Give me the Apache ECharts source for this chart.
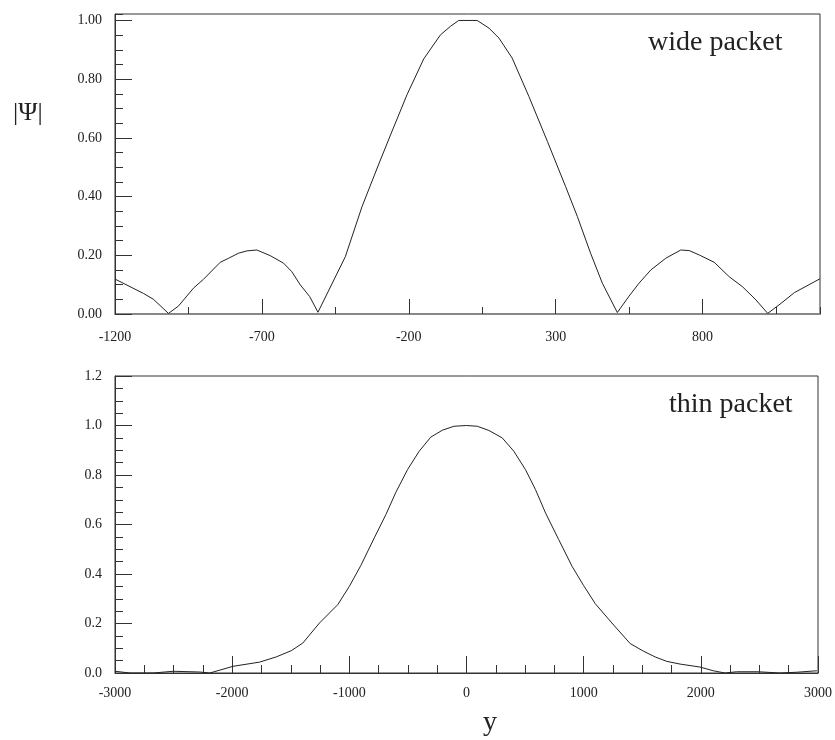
<!DOCTYPE html>
<html>
<head>
<meta charset="utf-8">
<script src="https://cdn.jsdelivr.net/npm/echarts@6/dist/echarts.min.js"></script>
<style>
  html, body { margin: 0; padding: 0; background: #fff; }
  #chart { width: 835px; height: 740px; }
</style>
</head>
<body>
<div id="chart"></div>
<script>
// wide packet (top panel)
var wideX = [-1200, -1103, -1069, -1018, -984, -933, -899, -842, -813, -780, -751, -717, -672, -626, -598, -569, -537, -509, -416, -359, -302, -262, -206, -149, -92, -58, -30, 33, 73, 107, 152, 209, 272, 334, 374, 419, 459, 510, 550, 584, 624, 675, 726, 755, 789, 840, 891, 936, 982, 1022, 1067, 1113, 1200];
var wideY = [0.119, 0.070, 0.050, 0.002, 0.027, 0.088, 0.118, 0.176, 0.190, 0.207, 0.215, 0.218, 0.199, 0.173, 0.144, 0.099, 0.059, 0.006, 0.195, 0.366, 0.511, 0.610, 0.747, 0.869, 0.951, 0.980, 1.0, 1.0, 0.974, 0.940, 0.872, 0.741, 0.588, 0.434, 0.332, 0.207, 0.105, 0.005, 0.061, 0.105, 0.150, 0.190, 0.218, 0.216, 0.201, 0.176, 0.127, 0.093, 0.048, 0.002, 0.036, 0.073, 0.120];

// thin packet (bottom panel)
var thinX = [-3000, -2872, -2674, -2504, -2277, -2191, -1993, -1766, -1624, -1496, -1397, -1255, -1099, -1000, -901, -787, -688, -603, -503, -404, -305, -206, -106, 0, 92, 191, 305, 404, 503, 589, 674, 787, 901, 1000, 1099, 1241, 1397, 1511, 1610, 1709, 1823, 1993, 2106, 2206, 2305, 2490, 2674, 2816, 2991];
var thinY = [0.007, 0.0, 0.0, 0.007, 0.004, 0.0, 0.027, 0.044, 0.065, 0.090, 0.121, 0.202, 0.276, 0.350, 0.435, 0.546, 0.640, 0.730, 0.822, 0.896, 0.953, 0.981, 0.997, 1.0, 0.997, 0.980, 0.950, 0.896, 0.822, 0.741, 0.647, 0.539, 0.431, 0.353, 0.280, 0.202, 0.119, 0.088, 0.065, 0.047, 0.036, 0.024, 0.009, 0.0, 0.005, 0.005, 0.0, 0.003, 0.009];

var serif = '"Liberation Serif", "DejaVu Serif", serif';
var ink = '#222';

function zip(xs, ys) {
  var out = [];
  for (var i = 0; i < xs.length; i++) out.push([xs[i], ys[i]]);
  return out;
}

// major axis with labels
function majorX(grid, min, max, step, len, margin, color, width) {
  return {
    type: 'value', gridIndex: grid, position: 'bottom', min: min, max: max, interval: step,
    axisLine: { onZero: false, lineStyle: { color: color, width: width } },
    axisTick: { inside: true, length: len, lineStyle: { color: '#333' } },
    axisLabel: {
      margin: margin, showMaxLabel: grid === 0 ? false : true, fontFamily: serif, fontSize: 14, color: ink,
      formatter: function (v) { return String(v); }
    },
    splitLine: { show: false }
  };
}
// extra axis just for the short ticks
function minorAxis(grid, pos, min, max, step, len) {
  return {
    type: 'value', gridIndex: grid, position: pos, min: min, max: max, interval: step,
    axisLine: { show: false, onZero: false },
    axisTick: { inside: true, length: len, lineStyle: { color: '#333' } },
    axisLabel: { show: false },
    splitLine: { show: false }
  };
}
function majorY(grid, max, digits) {
  return {
    type: 'value', gridIndex: grid, position: 'left', min: 0, max: max, interval: 0.2,
    axisLine: { onZero: false, lineStyle: { color: '#333' } },
    axisTick: { inside: true, length: 17, lineStyle: { color: '#333' } },
    axisLabel: {
      margin: 13, showMaxLabel: grid === 0 ? false : true, fontFamily: serif, fontSize: 14, color: ink,
      formatter: function (v) { return v.toFixed(digits); }
    },
    splitLine: { show: false }
  };
}

var chart = echarts.init(document.getElementById('chart'));
var option = {
  backgroundColor: '#ffffff',
  animation: false,
  grid: [
    { left: 115, top: 14, width: 705, height: 300, show: true, borderColor: '#333', borderWidth: 1 },
    { left: 115, top: 376, width: 705, height: 297, show: true, borderColor: '#333', borderWidth: 1 }
  ],
  xAxis: [
    majorX(0, -1200, 1200, 500, 15, 16, '#888', 2),
    minorAxis(0, 'bottom', -1200, 1200, 250, 7),
    majorX(1, -3000, 3000, 1000, 17, 13, '#333', 1),
    minorAxis(1, 'bottom', -3000, 3000, 250, 8)
  ],
  yAxis: [
    majorY(0, 1.022, 2),
    minorAxis(0, 'left', 0, 1.022, 0.05, 8),
    majorY(1, 1.2, 1),
    minorAxis(1, 'left', 0, 1.2, 0.05, 8)
  ],
  series: [
    {
      name: 'wide packet', type: 'line', xAxisIndex: 0, yAxisIndex: 0,
      data: zip(wideX, wideY), showSymbol: false, symbol: 'none',
      lineStyle: { color: ink, width: 1 }
    },
    {
      name: 'thin packet', type: 'line', xAxisIndex: 2, yAxisIndex: 2,
      data: zip(thinX, thinY), showSymbol: false, symbol: 'none',
      lineStyle: { color: ink, width: 1 }
    }
  ],
  graphic: [
    { type: 'text', left: 648, top: 29, style: { text: 'wide packet', font: '28px ' + serif, fill: ink } },
    { type: 'text', left: 669, top: 391, style: { text: 'thin packet', font: '28px ' + serif, fill: ink } },
    { type: 'text', left: 13, top: 100, style: { text: '|Ψ|', font: '26px ' + serif, fill: ink } },
    { type: 'text', left: 483, top: 709, style: { text: 'y', font: '28px ' + serif, fill: ink } }
  ]
};
chart.setOption(option);
</script>
</body>
</html>
